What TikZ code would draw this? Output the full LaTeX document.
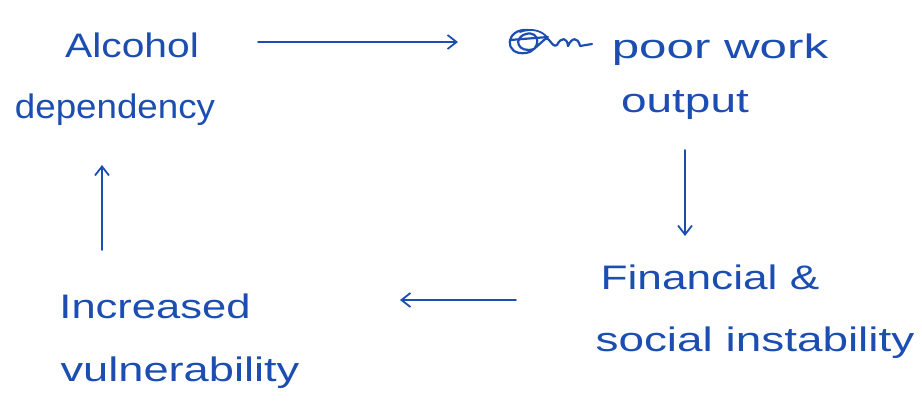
\documentclass[tikz,border=0pt]{standalone}
\usepackage{fontspec}
\usepackage{graphicx}
\setmainfont{Liberation Sans}
\usetikzlibrary{arrows.meta}
\definecolor{ink}{RGB}{28,78,178}
\newcommand{\wide}[2]{\scalebox{#1}[1]{#2}}
\tikzset{
  hand/.style={text=ink, font=\fontsize{34}{38}\selectfont, inner sep=0pt, anchor=base},
  conn/.style={draw=ink, line width=1.8pt, line cap=round, -{Straight Barb[length=9pt,width=14pt,line width=1.8pt]}}
}
\begin{document}
\begin{tikzpicture}[x=1pt,y=-1pt]
\useasboundingbox (0,0) rectangle (922,405);
% texts
\node[hand] (alc1) at (132,57) {\wide{1.2}{Alcohol}};
\node[hand] (alc2) at (115,118) {\wide{1.08}{dependency}};
\node[hand] (pw) at (720,58) {\wide{1.45}{poor work}};
\node[hand] (out) at (685,112) {\wide{1.35}{output}};
\node[hand] (fin) at (710,289) {\wide{1.3}{Financial \&}};
\node[hand] (soc) at (755,351) {\wide{1.35}{social instability}};
\node[hand] (inc) at (155,318) {\wide{1.28}{Increased}};
\node[hand] (vul) at (180,381) {\wide{1.33}{vulnerability}};
% crossed-out word
\draw[ink, line width=2.2pt, line cap=round, line join=round]
  (528,30) .. controls (505,28) and (503,56) .. (526,53)
  .. controls (542,50) and (540,30) .. (526,34)
  .. controls (512,38) and (518,54) .. (534,49)
  -- (544,40) .. controls (549,34) and (552,49) .. (557,45)
  .. controls (561,37) and (567,37) .. (568,46)
  .. controls (572,37) and (578,37) .. (580,46) -- (592,44);
\draw[ink, line width=2.2pt, line cap=round] (510,40) -- (548,37);
\draw[ink, line width=1.8pt, line cap=round] (520,32) .. controls (530,28) and (540,30) .. (546,36);
% connectors
\coordinate (a1s) at (258,42);
\coordinate (a1e) at (458,42);
\draw[conn] (a1s) -- (a1e);
\coordinate (a2s) at (685,150);
\coordinate (a2e) at (685,236);
\draw[conn] (a2s) -- (a2e);
\coordinate (a3s) at (516,300);
\coordinate (a3e) at (400,300);
\draw[conn] (a3s) -- (a3e);
\coordinate (a4s) at (102,250);
\coordinate (a4e) at (102,165);
\draw[conn] (a4s) -- (a4e);
\end{tikzpicture}
\end{document}
